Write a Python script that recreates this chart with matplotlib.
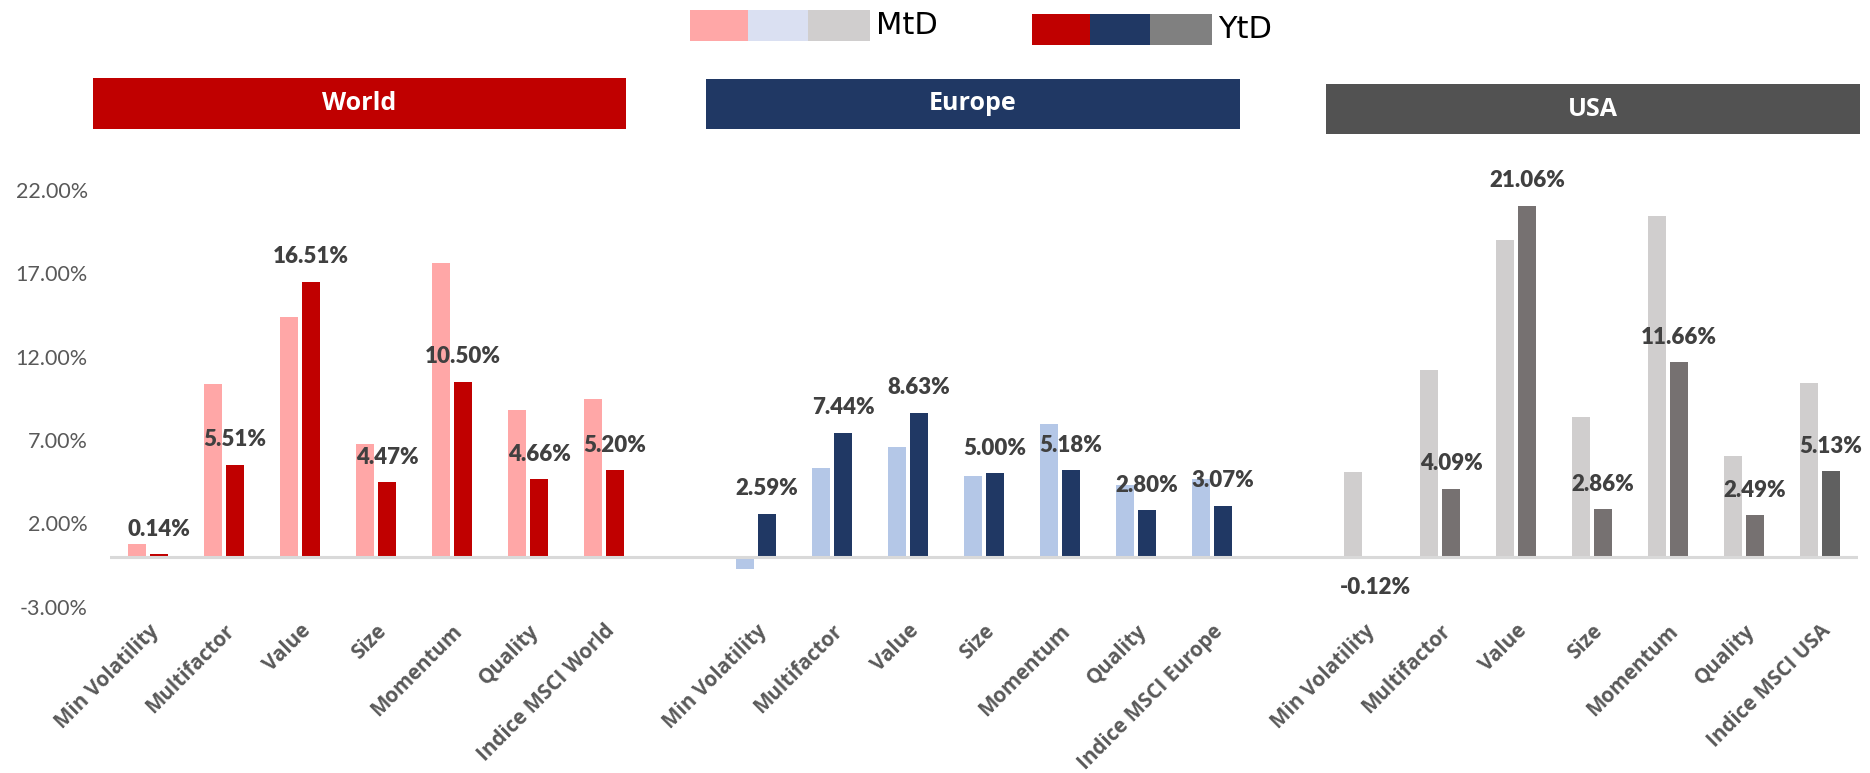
import matplotlib
matplotlib.use("Agg")
import matplotlib.pyplot as plt
from matplotlib.patches import Rectangle
import numpy as np

# ---- data -------------------------------------------------------------
factors = ["Min Volatility", "Multifactor", "Value", "Size", "Momentum", "Quality"]
regions = ["World", "Europe", "USA"]
index_names = ["Indice MSCI World", "Indice MSCI Europe", "Indice MSCI USA"]

world_mtd = [0.76, 10.36, 14.38, 6.76, 17.62, 8.80, 9.46]
world_ytd = [0.14, 5.51, 16.51, 4.47, 10.50, 4.66, 5.20]
europe_mtd = [-0.74, 5.34, 6.58, 4.84, 7.96, 4.30, 4.66]
europe_ytd = [2.59, 7.44, 8.63, 5.00, 5.18, 2.80, 3.07]
usa_mtd = [5.08, 11.20, 19.00, 8.38, 20.44, 6.04, 10.42]
usa_ytd = [-0.12, 4.09, 21.06, 2.86, 11.66, 2.49, 5.13]

y_ticks = [-3, 2, 7, 12, 17, 22]

# ---- styling ----------------------------------------------------------
mtd_colors = ["#ffa7a7", "#b4c7e7", "#d0cece"]
ytd_colors = ["#c00000", "#203864", "#767171"]
ytd_last_usa = "#606060"
header_colors = ["#c00000", "#203864", "#525252"]
legend_mtd = ["#ffa7a7", "#dae0f2", "#d0cece"]
legend_ytd = ["#c00000", "#203864", "#808080"]

W, H = 1870, 773
fig = plt.figure(figsize=(W / 100, H / 100), dpi=100)


def fx(px):
    return px / W


def fy(py):
    return 1 - py / H


ax_left, ax_right, ax_top, ax_bottom = 110, 1858, 190, 606.7
ax = fig.add_axes([fx(ax_left), fy(ax_bottom), fx(ax_right - ax_left),
                   (ax_bottom - ax_top) / H])

mtd_sets = [world_mtd, europe_mtd, usa_mtd]
ytd_sets = [world_ytd, europe_ytd, usa_ytd]
bar_w = 0.237
shift = 0.145
label_font = "Lato"

tick_pos, tick_lab = [], []
for g in range(3):
    base = g * 8
    xs = base + np.arange(7)
    ycols = [ytd_colors[g]] * 7
    if g == 2:
        ycols[-1] = ytd_last_usa
    ax.bar(xs - shift, mtd_sets[g], width=bar_w, color=mtd_colors[g], zorder=2)
    ax.bar(xs + shift, ytd_sets[g], width=bar_w, color=ycols, zorder=2)
    for x, v in zip(xs, ytd_sets[g]):
        off = 18 if v >= 0 else -21
        ax.annotate(f"{v:.2f}%", (x + shift, v), xytext=(0, off),
                    textcoords="offset points", ha="center", va="center",
                    fontsize=16, fontweight="heavy", color="#404040",
                    family=label_font, zorder=4, annotation_clip=False)
    tick_pos.extend(xs)
    tick_lab.extend(factors + [index_names[g]])

ax.axhline(0, color="#d9d9d9", lw=2.2, zorder=3)
ax.set_xlim(-0.5, 22.5)
ax.set_ylim(-3, 22)
ax.set_yticks(y_ticks)
ax.set_yticklabels([f"{t:.2f}%" for t in y_ticks], family=label_font,
                   fontsize=15.5, color="#595959")
ax.set_xticks(tick_pos)
ax.set_xticklabels(tick_lab, rotation=45, ha="right", va="top",
                   rotation_mode="anchor", family="Open Sans",
                   fontweight="bold", fontsize=14.8, color="#595959")
ax.tick_params(axis="both", length=0)
ax.tick_params(axis="y", pad=16)
ax.tick_params(axis="x", pad=10)
for s in ax.spines.values():
    s.set_visible(False)

# ---- region header boxes ---------------------------------------------
boxes = [(93, 626, 78, 129), (706, 1240, 79, 129), (1326, 1860, 84, 134)]
for (x0, x1, y0, y1), name, col in zip(boxes, regions, header_colors):
    fig.add_artist(Rectangle((fx(x0), fy(y1)), fx(x1 - x0), (y1 - y0) / H,
                             transform=fig.transFigure, color=col, lw=0))
    fig.text(fx((x0 + x1) / 2), fy((y0 + y1) / 2), name, ha="center",
             va="center", color="white", fontsize=18, fontweight="bold",
             family="Open Sans")

# ---- legend -------------------------------------------------------------
def legend_row(x0, y0, colors, text):
    widths = [58, 60, 62]
    x = x0
    for c, w in zip(colors, widths):
        fig.add_artist(Rectangle((fx(x), fy(y0 + 31)), fx(w), 31 / H,
                                 transform=fig.transFigure, color=c, lw=0))
        x += w
    fig.text(fx(x + 6), fy(y0 + 16), text, ha="left", va="center",
             fontsize=22, color="black", family="DejaVu Sans")


legend_row(690, 10, legend_mtd, "MtD")
legend_row(1032, 14, legend_ytd, "YtD")

fig.savefig("out.png", dpi=100, facecolor="white")
